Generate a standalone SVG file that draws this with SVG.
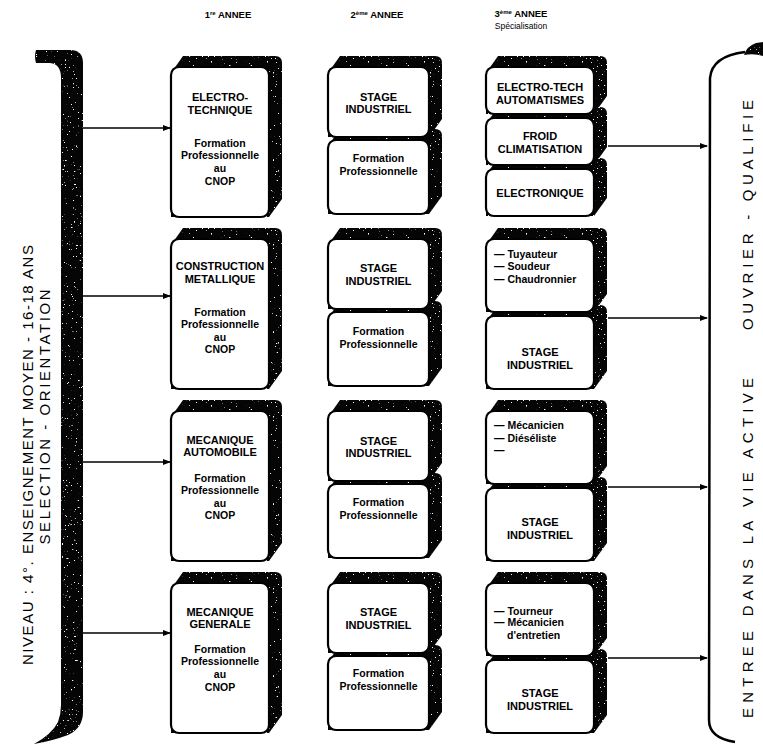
<svg xmlns="http://www.w3.org/2000/svg" width="763" height="744" viewBox="0 0 763 744">
<style>
.t{font-family:"Liberation Sans",Arial,sans-serif;fill:#000;text-anchor:middle;font-weight:bold}
.h{font-size:9.5px}
.sup{font-size:6px}
.sp{font-size:8.5px;font-weight:normal}
.cap{font-size:11px}
.fp{font-size:10.5px}
.li{font-size:10.5px;text-anchor:start}
.side{font-size:15px;font-weight:normal}
.face{fill:#fff;stroke:#000;stroke-width:2.2}
.dark{fill:#050505}
.conn{stroke:#000;stroke-width:1.6;fill:none}
</style>
<defs>
<filter id="grain" x="-5%" y="-5%" width="110%" height="110%" color-interpolation-filters="sRGB">
<feTurbulence type="fractalNoise" baseFrequency="0.55" numOctaves="2" seed="7" result="noise"/>
<feColorMatrix in="noise" type="matrix" values="0 0 0 0 1 0 0 0 0 1 0 0 0 0 1 -16 0 0 0 4.7" result="spots"/>
<feComposite in="spots" in2="SourceAlpha" operator="in" result="clip"/>
<feMerge><feMergeNode in="SourceGraphic"/><feMergeNode in="clip"/></feMerge>
</filter>
<marker id="ah" markerWidth="8" markerHeight="6" refX="7" refY="3" orient="auto" markerUnits="userSpaceOnUse">
<path d="M0,0 L8,3 L0,6 Z" fill="#000"/>
</marker>
<path id="h1" class="dark" d="M0,6 L12,-11 L104,-11 Q111,-11 111,-4 L111,132 L98,150 L0,150 Z"/>
<path id="h2a" class="dark" d="M0,6 L12,-11 L107,-11 Q114,-11 114,-4 L114,52 L101,70 L0,70 Z"/>
<path id="h2b" class="dark" d="M0,6 L12,-11 L107,-11 Q114,-11 114,-4 L114,56 L101,74 L0,74 Z"/>
<path id="h3a" class="dark" d="M0,6 L12,-11 L114,-11 Q121,-11 121,-4 L121,29 L108,47 L0,47 Z"/>
<path id="h3b" class="dark" d="M0,6 L12,-11 L114,-11 Q121,-11 121,-4 L121,55 L108,73 L0,73 Z"/>
</defs>
<rect width="763" height="744" fill="#fff"/>

<g id="header">
<text class="t h" x="228" y="18">1<tspan class="sup" dy="-3">re</tspan><tspan dy="3"> ANNEE</tspan></text>
<text class="t h" x="377" y="18">2<tspan class="sup" dy="-3">ème</tspan><tspan dy="3"> ANNEE</tspan></text>
<text class="t h" x="521" y="17">3<tspan class="sup" dy="-3">ème</tspan><tspan dy="3"> ANNEE</tspan></text>
<text class="t sp" x="521" y="29">Spécialisation</text>
</g>

<g id="left-bar">
<path class="dark" filter="url(#grain)" d="M36,50 L70,50 Q83,50 83,63 L83,712 Q83,728 68,735 Q52,741 34,744 Q52,734 58,722 Q61,714 61,705 L61,78 Q61,64 50,63 L36,63 Q34,56 36,50 Z"/>
<text class="t side" transform="translate(33,455) rotate(-90)" textLength="420" lengthAdjust="spacing">NIVEAU : 4°. ENSEIGNEMENT MOYEN - 16-18 ANS</text>
<text class="t side" transform="translate(50,417) rotate(-90)" textLength="255" lengthAdjust="spacing">SELECTION - ORIENTATION</text>
</g>

<g id="right-bar">
<path d="M745,52 Q712,56 710,78 L709,720 Q709,738 735,742" fill="none" stroke="#000" stroke-width="2.5"/>
<path class="dark" filter="url(#grain)" d="M744,55 Q747,46 756,43 L763,42 L763,56 Q754,53 744,55 Z"/>
<text class="t side" transform="translate(753,215) rotate(-90)" textLength="230" lengthAdjust="spacing">OUVRIER - QUALIFIE</text>
<text class="t side" transform="translate(753,548) rotate(-90)" textLength="340" lengthAdjust="spacing">ENTREE DANS LA VIE ACTIVE</text>
</g>

<g id="connectors">
<line class="conn" x1="83" y1="128" x2="170" y2="128" marker-end="url(#ah)"/>
<line class="conn" x1="83" y1="296" x2="170" y2="296" marker-end="url(#ah)"/>
<line class="conn" x1="83" y1="462" x2="170" y2="462" marker-end="url(#ah)"/>
<line class="conn" x1="83" y1="633" x2="170" y2="633" marker-end="url(#ah)"/>
<line class="conn" x1="608" y1="146" x2="707" y2="146" marker-end="url(#ah)"/>
<line class="conn" x1="608" y1="318" x2="707" y2="318" marker-end="url(#ah)"/>
<line class="conn" x1="608" y1="487" x2="707" y2="487" marker-end="url(#ah)"/>
<line class="conn" x1="608" y1="658" x2="707" y2="658" marker-end="url(#ah)"/>
</g>

<!-- Row 1 (T=67) -->
<g id="electrotechnique">
<use href="#h1" x="171" y="67" filter="url(#grain)"/>
<rect class="face" x="171" y="67" width="98" height="150" rx="8"/>
<text class="t cap" x="220" y="101">ELECTRO-</text>
<text class="t cap" x="220" y="114">TECHNIQUE</text>
<text class="t fp" x="220" y="147">Formation</text>
<text class="t fp" x="220" y="159">Professionnelle</text>
<text class="t fp" x="220" y="172">au</text>
<text class="t fp" x="220" y="185">CNOP</text>
</g>
<g id="stage-r1">
<use href="#h2a" x="328" y="67" filter="url(#grain)"/>
<use href="#h2b" x="328" y="140" filter="url(#grain)"/>
<rect class="face" x="328" y="67" width="101" height="70" rx="8"/>
<rect class="face" x="328" y="140" width="101" height="74" rx="8"/>
<text class="t cap" x="378.5" y="101">STAGE</text>
<text class="t cap" x="378.5" y="113">INDUSTRIEL</text>
<text class="t fp" x="378.5" y="162">Formation</text>
<text class="t fp" x="378.5" y="175">Professionnelle</text>
</g>
<g id="spec-r1">
<use href="#h3a" x="486" y="67" filter="url(#grain)"/>
<use href="#h3a" x="486" y="118" filter="url(#grain)"/>
<use href="#h3a" x="486" y="169" filter="url(#grain)"/>
<rect class="face" x="486" y="67" width="108" height="47" rx="8"/>
<rect class="face" x="486" y="118" width="108" height="47" rx="8"/>
<rect class="face" x="486" y="169" width="108" height="47" rx="8"/>
<text class="t cap" x="540" y="91">ELECTRO-TECH</text>
<text class="t cap" x="540" y="104">AUTOMATISMES</text>
<text class="t cap" x="540" y="140">FROID</text>
<text class="t cap" x="540" y="153">CLIMATISATION</text>
<text class="t cap" x="540" y="197">ELECTRONIQUE</text>
</g>

<!-- Row 2 (T=239) -->
<g id="construction">
<use href="#h1" x="171" y="239" filter="url(#grain)"/>
<rect class="face" x="171" y="239" width="98" height="150" rx="8"/>
<text class="t cap" x="220" y="270">CONSTRUCTION</text>
<text class="t cap" x="220" y="283">METALLIQUE</text>
<text class="t fp" x="220" y="316">Formation</text>
<text class="t fp" x="220" y="328">Professionnelle</text>
<text class="t fp" x="220" y="341">au</text>
<text class="t fp" x="220" y="353">CNOP</text>
</g>
<g id="stage-r2">
<use href="#h2a" x="328" y="239" filter="url(#grain)"/>
<use href="#h2b" x="328" y="312" filter="url(#grain)"/>
<rect class="face" x="328" y="239" width="101" height="70" rx="8"/>
<rect class="face" x="328" y="312" width="101" height="74" rx="8"/>
<text class="t cap" x="378.5" y="272">STAGE</text>
<text class="t cap" x="378.5" y="285">INDUSTRIEL</text>
<text class="t fp" x="378.5" y="335">Formation</text>
<text class="t fp" x="378.5" y="348">Professionnelle</text>
</g>
<g id="spec-r2">
<use href="#h3b" x="486" y="239" filter="url(#grain)"/>
<use href="#h3b" x="486" y="316" filter="url(#grain)"/>
<rect class="face" x="486" y="239" width="108" height="73" rx="8"/>
<rect class="face" x="486" y="316" width="108" height="73" rx="8"/>
<text class="t li" x="494" y="258">— Tuyauteur</text>
<text class="t li" x="494" y="270">— Soudeur</text>
<text class="t li" x="494" y="283">— Chaudronnier</text>
<text class="t cap" x="540" y="356">STAGE</text>
<text class="t cap" x="540" y="369">INDUSTRIEL</text>
</g>

<!-- Row 3 (T=411) -->
<g id="meca-auto">
<use href="#h1" x="171" y="411" filter="url(#grain)"/>
<rect class="face" x="171" y="411" width="98" height="150" rx="8"/>
<text class="t cap" x="220" y="444">MECANIQUE</text>
<text class="t cap" x="220" y="456">AUTOMOBILE</text>
<text class="t fp" x="220" y="482">Formation</text>
<text class="t fp" x="220" y="494">Professionnelle</text>
<text class="t fp" x="220" y="507">au</text>
<text class="t fp" x="220" y="519">CNOP</text>
</g>
<g id="stage-r3">
<use href="#h2a" x="328" y="411" filter="url(#grain)"/>
<use href="#h2b" x="328" y="484" filter="url(#grain)"/>
<rect class="face" x="328" y="411" width="101" height="70" rx="8"/>
<rect class="face" x="328" y="484" width="101" height="74" rx="8"/>
<text class="t cap" x="378.5" y="445">STAGE</text>
<text class="t cap" x="378.5" y="457">INDUSTRIEL</text>
<text class="t fp" x="378.5" y="506">Formation</text>
<text class="t fp" x="378.5" y="519">Professionnelle</text>
</g>
<g id="spec-r3">
<use href="#h3b" x="486" y="411" filter="url(#grain)"/>
<use href="#h3b" x="486" y="488" filter="url(#grain)"/>
<rect class="face" x="486" y="411" width="108" height="73" rx="8"/>
<rect class="face" x="486" y="488" width="108" height="73" rx="8"/>
<text class="t li" x="494" y="429">— Mécanicien</text>
<text class="t li" x="494" y="442">— Diéséliste</text>
<text class="t li" x="494" y="454">—</text>
<text class="t cap" x="540" y="526">STAGE</text>
<text class="t cap" x="540" y="539">INDUSTRIEL</text>
</g>

<!-- Row 4 (T=583) -->
<g id="meca-gen">
<use href="#h1" x="171" y="583" filter="url(#grain)"/>
<rect class="face" x="171" y="583" width="98" height="150" rx="8"/>
<text class="t cap" x="220" y="616">MECANIQUE</text>
<text class="t cap" x="220" y="628">GENERALE</text>
<text class="t fp" x="220" y="653">Formation</text>
<text class="t fp" x="220" y="665">Professionnelle</text>
<text class="t fp" x="220" y="678">au</text>
<text class="t fp" x="220" y="691">CNOP</text>
</g>
<g id="stage-r4">
<use href="#h2a" x="328" y="583" filter="url(#grain)"/>
<use href="#h2b" x="328" y="656" filter="url(#grain)"/>
<rect class="face" x="328" y="583" width="101" height="70" rx="8"/>
<rect class="face" x="328" y="656" width="101" height="74" rx="8"/>
<text class="t cap" x="378.5" y="616">STAGE</text>
<text class="t cap" x="378.5" y="629">INDUSTRIEL</text>
<text class="t fp" x="378.5" y="677">Formation</text>
<text class="t fp" x="378.5" y="690">Professionnelle</text>
</g>
<g id="spec-r4">
<use href="#h3b" x="486" y="583" filter="url(#grain)"/>
<use href="#h3b" x="486" y="660" filter="url(#grain)"/>
<rect class="face" x="486" y="583" width="108" height="73" rx="8"/>
<rect class="face" x="486" y="660" width="108" height="73" rx="8"/>
<text class="t li" x="494" y="615">— Tourneur</text>
<text class="t li" x="494" y="626">— Mécanicien</text>
<text class="t li" x="507" y="639">d'entretien</text>
<text class="t cap" x="540" y="697">STAGE</text>
<text class="t cap" x="540" y="710">INDUSTRIEL</text>
</g>
</svg>
